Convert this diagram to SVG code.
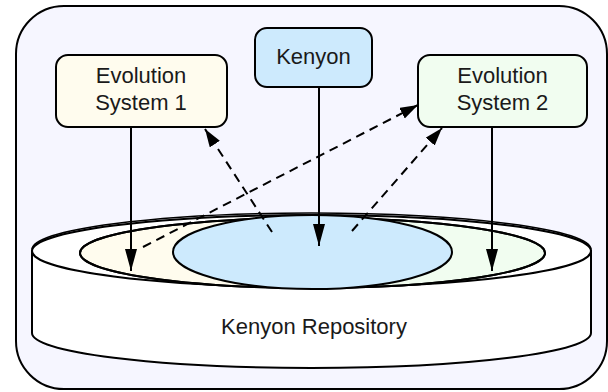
<svg xmlns="http://www.w3.org/2000/svg" width="608" height="392" viewBox="0 0 608 392">
  <style>
    .box { stroke: #000; stroke-width: 2; }
    .lbl { font-family: "Liberation Sans", Arial, sans-serif; font-size: 22px; fill: #1a1a1a; text-anchor: middle; }
    .edge { stroke: #000; stroke-width: 2; fill: none; }
    .dash { stroke-dasharray: 9 6; }
    .shape { stroke: #000; stroke-width: 2; }
  </style>
  <defs>
    <marker id="solidHead" markerUnits="userSpaceOnUse" markerWidth="24" markerHeight="14" refX="22" refY="6" orient="auto">
      <path d="M0,0 L22,6 L0,12 Z" fill="#000"/>
    </marker>
    <marker id="dashHead" markerUnits="userSpaceOnUse" markerWidth="20" markerHeight="14" refX="18" refY="6" orient="auto">
      <path d="M0,0 L18,6 L0,12 Z" fill="#000"/>
    </marker>
  </defs>

  <!-- frame -->
  <rect id="frame" x="16" y="6" width="591" height="383" rx="48" ry="48" fill="#f6f6ff" stroke="#000" stroke-width="2"/>

  <!-- repository cylinder -->
  <g id="repository">
    <path class="shape" d="M32,251 L32,333 A279.5,35 0 0 0 591,333 L591,251 Z" fill="#ffffff"/>
    <ellipse class="shape" cx="311.5" cy="251" rx="279.5" ry="36" fill="#ffffff"/>
    <path d="M32,251 A279.5,36.5 0 0 1 591,251" fill="none" stroke="#000" stroke-width="1.5" transform="translate(0,-1.5)"/>
    <!-- evolution system stores -->
    <path class="shape" d="M312.5,218 A232.5,35 0 0 0 312.5,288 Z" fill="#fffcee"/>
    <path class="shape" d="M312.5,218 A232.5,35 0 0 1 312.5,288 Z" fill="#f1fdf0"/>
    <ellipse class="shape" cx="312.5" cy="253" rx="232.5" ry="35" fill="none"/>
    <!-- kenyon store -->
    <ellipse class="shape" cx="312.5" cy="252" rx="139.5" ry="37" fill="#cdeafd"/>
    <text class="lbl" x="314" y="334">Kenyon Repository</text>
  </g>

  <!-- nodes -->
  <g id="evo1">
    <rect class="box" x="56" y="55" width="171" height="72" rx="12" fill="#fffcee"/>
    <text class="lbl" x="141" y="83">Evolution</text>
    <text class="lbl" x="141" y="110">System 1</text>
  </g>
  <g id="kenyon">
    <rect class="box" x="255" y="28" width="117" height="59" rx="12" fill="#cdeafd"/>
    <text class="lbl" x="313.5" y="64">Kenyon</text>
  </g>
  <g id="evo2">
    <rect class="box" x="418" y="55" width="169" height="72" rx="12" fill="#f1fdf0"/>
    <text class="lbl" x="502.5" y="83">Evolution</text>
    <text class="lbl" x="502.5" y="110">System 2</text>
  </g>

  <!-- connectors -->
  <g id="connectors">
    <line class="edge" x1="131" y1="127" x2="131" y2="271" marker-end="url(#solidHead)"/>
    <line class="edge" x1="319" y1="87" x2="319" y2="246" marker-end="url(#solidHead)"/>
    <line class="edge" x1="492" y1="127" x2="492" y2="271" marker-end="url(#solidHead)"/>
    <line class="edge dash" x1="143" y1="247" x2="418" y2="105" marker-end="url(#dashHead)"/>
    <line class="edge dash" x1="272" y1="232" x2="205" y2="129" marker-end="url(#dashHead)"/>
    <line class="edge dash" x1="352" y1="231" x2="442" y2="128" marker-end="url(#dashHead)"/>
  </g>
</svg>
